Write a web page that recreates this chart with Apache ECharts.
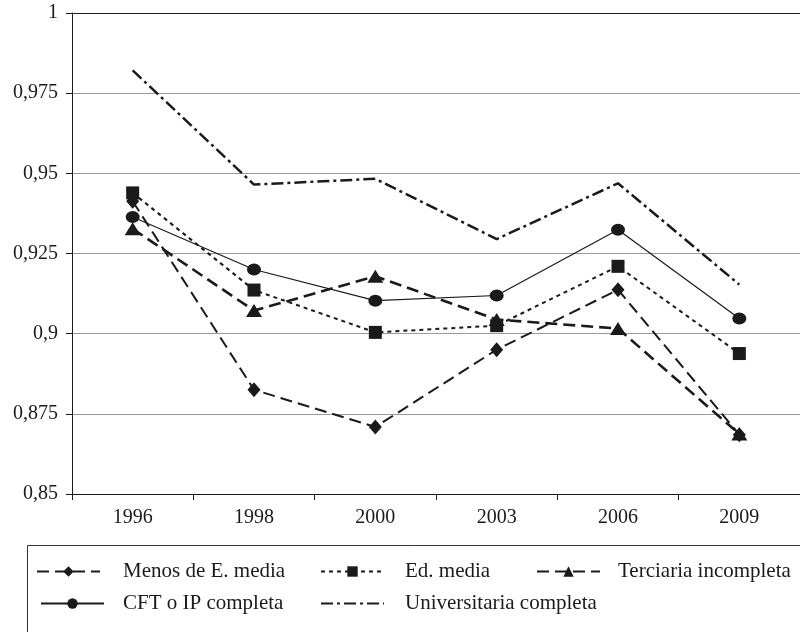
<!DOCTYPE html>
<html>
<head>
<meta charset="utf-8">
<script src="https://cdn.jsdelivr.net/npm/echarts@6/dist/echarts.min.js"></script>
<style>
html,body{margin:0;padding:0;background:#fff;}
#chart{width:800px;height:632px;}
</style>
</head>
<body>
<div id="chart"></div>
<script>
var years = ['1996','1998','2000','2003','2006','2009'];
var menosEMedia = [0.9413, 0.8825, 0.8709, 0.8950, 0.9137, 0.8685];
var edMedia = [0.9439, 0.9136, 0.9004, 0.9025, 0.9210, 0.8938];
var terciariaIncompleta = [0.9327, 0.9072, 0.9179, 0.9044, 0.9016, 0.8687];
var cftIpCompleta = [0.9364, 0.9200, 0.9103, 0.9119, 0.9324, 0.9047];
var universitariaCompleta = [0.9821, 0.9465, 0.9483, 0.9295, 0.9469, 0.9153];
var yTickLabels = ['0,85','0,875','0,9','0,925','0,95','0,975','1'];

var FONT = 'Liberation Serif';
var INK = '#1a1a1a';

var chart = echarts.init(document.getElementById('chart'), null, {renderer:'canvas'});

function legendAt(item, left, top, pad) {
  return {
    data: [item],
    left: left, top: top,
    itemWidth: 63, itemHeight: 13,
    padding: 0,
    textStyle: {fontFamily: FONT, fontSize: 21, color: INK, padding: [0,0,0,pad]},
    selectedMode: false
  };
}

var option = {
  backgroundColor: '#fff',
  animation: false,
  grid: {left: 72, top: 13, width: 730, height: 481, containLabel: false},
  graphic: [{
    type: 'rect', shape: {x: 27.5, y: 545.5, width: 800, height: 120},
    style: {fill: 'none', stroke: '#333', lineWidth: 1}, silent: true, z: 0
  }],
  legend: [
    legendAt('Menos de E. media', 36, 561, 18),
    legendAt('Ed. media', 320, 561, 16),
    legendAt('Terciaria incompleta', 536, 561, 13),
    legendAt('CFT o IP completa', 40, 593, 14),
    legendAt({name: 'Universitaria completa', itemStyle: {opacity: 0}}, 320, 593, 16)
  ],
  xAxis: [{
    type: 'category', data: years, boundaryGap: true,
    axisLine: {lineStyle: {color: INK, width: 1}},
    axisTick: {show: true, length: 6, lineStyle: {color: INK}},
    axisLabel: {fontFamily: FONT, fontSize: 20, color: INK, margin: 14},
    splitLine: {show: false}
  }, {
    type: 'category', data: years, position: 'top',
    axisLine: {show: true, lineStyle: {color: INK, width: 1}},
    axisTick: {show: false}, axisLabel: {show: false}, splitLine: {show: false}
  }],
  yAxis: {
    type: 'value', min: 0.85, max: 1, interval: 0.025,
    axisLine: {show: true, lineStyle: {color: INK, width: 1}},
    axisTick: {show: true, length: 6, lineStyle: {color: INK}},
    axisLabel: {
      fontFamily: FONT, fontSize: 20, color: INK, margin: 14,
      formatter: function (v) {
        var idx = Math.round((v - 0.85) / 0.025);
        return yTickLabels[idx];
      }
    },
    splitLine: {show: true, lineStyle: {color: '#9a9a9a', width: 1}}
  },
  series: [
    {
      name: 'Menos de E. media', type: 'line', data: menosEMedia,
      symbol: 'diamond', symbolSize: [13, 15],
      lineStyle: {color: INK, width: 2, type: [12, 6]},
      itemStyle: {color: INK}, z: 5
    },
    {
      name: 'Ed. media', type: 'line', data: edMedia,
      symbol: 'rect', symbolSize: 13,
      lineStyle: {color: INK, width: 2, type: [4, 4]},
      itemStyle: {color: INK}, z: 5
    },
    {
      name: 'Terciaria incompleta', type: 'line', data: terciariaIncompleta,
      symbol: 'triangle', symbolSize: [16, 13],
      lineStyle: {color: INK, width: 2.6, type: [12, 6]},
      itemStyle: {color: INK}, z: 5
    },
    {
      name: 'CFT o IP completa', type: 'line', data: cftIpCompleta,
      symbol: 'circle', symbolSize: [14, 12],
      lineStyle: {color: INK, width: 1.2, type: 'solid'},
      itemStyle: {color: INK}, z: 5
    },
    {
      name: 'Universitaria completa', type: 'line', data: universitariaCompleta,
      symbol: 'none',
      lineStyle: {color: INK, width: 2.5, type: [12, 4, 3, 4]},
      itemStyle: {color: INK}, z: 5
    }
  ]
};
chart.setOption(option);
</script>
</body>
</html>
